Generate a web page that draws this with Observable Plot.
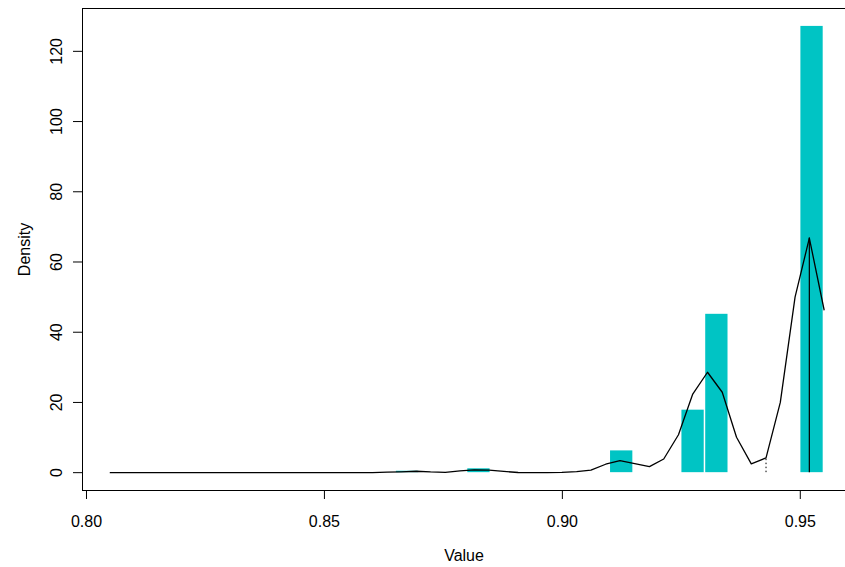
<!DOCTYPE html>
<html>
<head>
<meta charset="utf-8">
<script src="https://cdn.jsdelivr.net/npm/d3@7"></script>
<script src="https://cdn.jsdelivr.net/npm/@observablehq/plot@0.6"></script>
<style>
  body { margin: 0; background: #fff; }
  svg { display: block; }
</style>
</head>
<body>
<div id="chart"></div>
<script>
// Kernel density estimate, evaluated on a grid of 50 points
const gridX = [
  0.8050, 0.8081, 0.8111, 0.8142, 0.8172, 0.8203, 0.8234, 0.8264, 0.8295, 0.8326,
  0.8356, 0.8387, 0.8417, 0.8448, 0.8479, 0.8509, 0.8540, 0.8570, 0.8601, 0.8632,
  0.8662, 0.8693, 0.8723, 0.8754, 0.8785, 0.8815, 0.8846, 0.8877, 0.8907, 0.8938,
  0.8968, 0.8999, 0.9030, 0.9060, 0.9091, 0.9121, 0.9152, 0.9183, 0.9213, 0.9244,
  0.9274, 0.9305, 0.9336, 0.9366, 0.9397, 0.9428, 0.9458, 0.9489, 0.9519, 0.9550
];
const densityY = [
  0, 0, 0, 0, 0, 0, 0, 0, 0, 0,
  0, 0, 0, 0, 0, 0, 0, 0, 0.02, 0.15,
  0.25, 0.4, 0.2, 0.1, 0.5, 0.8, 0.7, 0.35, 0.05, 0.02,
  0.02, 0.1, 0.3, 0.7, 2.4, 3.4, 2.6, 1.7, 3.9, 10.8,
  22.4, 28.6, 22.9, 10.1, 2.5, 4.2, 20.0, 50.0, 66.8, 46.4
];

// Histogram bins (density scale)
const binStart = [0.865, 0.880, 0.910, 0.925, 0.930, 0.950];
const binEnd = [0.870, 0.885, 0.915, 0.930, 0.935, 0.955];
const binDensity = [0.4, 1.1, 6.2, 17.8, 45.1, 127.1];

// Grid points marked with drop lines
const solidAt = 0.9519;
const dottedAt = 0.9428;

const xTicks = [0.80, 0.85, 0.90, 0.95];
const yTicks = [0, 20, 40, 60, 80, 100, 120];

const xDomain = [0.79916, 0.9595];
const yDomain = [-5.08, 132.2];

const curve = gridX.map((x, i) => ({x, y: densityY[i]}));
const bins = binStart.map((x1, i) => ({x1, x2: binEnd[i], y: binDensity[i]}));

const chart = Plot.plot({
  width: 845,
  height: 567,
  marginLeft: 82,
  marginRight: 0,
  marginTop: 8,
  marginBottom: 77,
  style: {
    fontFamily: '"Liberation Sans", Arial, sans-serif',
    fontSize: "16px",
    color: "#000",
    background: "#fff"
  },
  x: {domain: xDomain},
  y: {domain: yDomain},
  marks: [
    Plot.rectY(bins, {x1: "x1", x2: "x2", y1: 0, y2: "y", fill: "#00c4c4", insetLeft: 0.6, insetRight: 0.9}),
    Plot.ruleX(curve.filter(d => d.x === solidAt), {x: "x", y1: 0, y2: "y", stroke: "#000", strokeWidth: 1.2}),
    Plot.ruleX(curve.filter(d => d.x === dottedAt), {x: "x", y1: 0, y2: "y", stroke: "#000", strokeWidth: 1, strokeDasharray: "1.5,2.5"}),
    Plot.line(curve, {x: "x", y: "y", stroke: "#000", strokeWidth: 1.3}),
    // plot box: left, bottom and top edges
    Plot.ruleX([xDomain[0]], {stroke: "#000"}),
    Plot.ruleY(yDomain, {stroke: "#000"}),
    Plot.axisX({
      ticks: xTicks, tickFormat: d3.format(".2f"), tickSize: 9, tickPadding: 16,
      label: "Value", labelAnchor: "center", labelArrow: "none", labelOffset: 70
    }),
    Plot.axisY({
      ticks: yTicks, tickSize: 9, tickRotate: -90, tickPadding: 12,
      label: "Density", labelAnchor: "center", labelArrow: "none", labelOffset: 64
    })
  ]
});

document.getElementById("chart").appendChild(chart);
</script>
</body>
</html>
